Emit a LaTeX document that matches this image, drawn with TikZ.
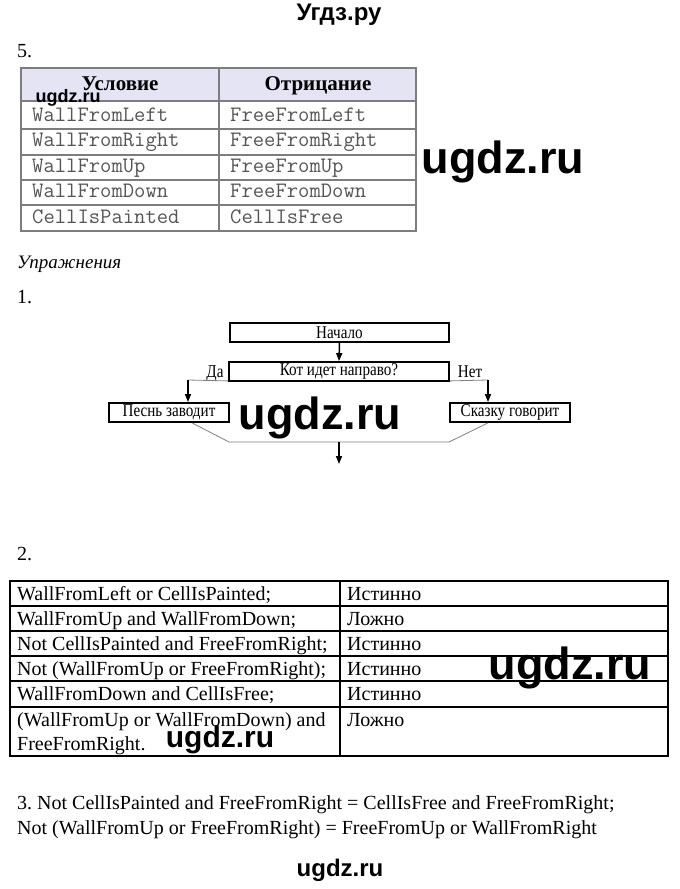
\documentclass[tikz,border=0pt]{standalone}
\usepackage{fontspec}
\setmainfont{Liberation Serif}
\newfontfamily\wmfont{Liberation Sans}
\newfontfamily\narrowserif[FakeStretch=0.84]{Liberation Serif}
\usetikzlibrary{arrows.meta,positioning}
\frenchspacing

\definecolor{headfill}{RGB}{228,228,244}
\definecolor{tabgray}{RGB}{125,125,125}
\definecolor{monogray}{RGB}{85,85,85}

\begin{document}
\begin{tikzpicture}[x=1pt,y=-1pt,
  wmark/.style={font=\wmfont\bfseries\fontsize{45}{45}\selectfont,inner sep=0pt},
  txt/.style={font=\fontsize{20}{24}\selectfont,inner sep=0pt,anchor=base west},
  mono/.style={font=\ttfamily\fontsize{22}{24}\selectfont,text=monogray,inner sep=0pt,anchor=base west},
  headtxt/.style={font=\bfseries\fontsize{21}{24}\selectfont,inner sep=0pt,anchor=base},
  fbox/.style={draw,line width=1.8pt,font=\narrowserif\fontsize{18}{20}\selectfont,inner sep=0pt,minimum height=19pt},
  flabel/.style={font=\narrowserif\fontsize{18}{20}\selectfont,inner sep=0pt,anchor=base},
  thinline/.style={draw=gray,line width=0.8pt},
  arrowline/.style={line width=1.5pt,-{Triangle[length=8pt,width=6pt]}}]

  \useasboundingbox[fill=white] (0,0) rectangle (680,889);

  % header
  \node[font=\wmfont\bfseries\fontsize{24}{24}\selectfont,inner sep=0pt] (title) at (339,15) {Угдз.ру};

  % 5.
  \node[txt] (five) at (17,57) {5.};
  \fill[headfill] (21,68) rectangle (416,101);
  \draw[tabgray,line width=1.4pt] (21,68) rectangle (416,231);
  \foreach \y in {101,129,155,180,205}
    \draw[tabgray,line width=1.2pt] (21,\y) -- (416,\y);
  \draw[tabgray,line width=1.2pt] (219,68) -- (219,231);
  \node[headtxt] (hcond) at (120,90) {Условие};
  \node[headtxt] (hneg) at (318,90) {Отрицание};
  \foreach \cnd/\ngt [count=\i] in {WallFromLeft/FreeFromLeft,WallFromRight/FreeFromRight,
      WallFromUp/FreeFromUp,WallFromDown/FreeFromDown,CellIsPainted/CellIsFree}
  {
    \node[mono] (cnd\i) at (32,{121+25.5*(\i-1)}) {\cnd};
    \node[mono] (ngt\i) at (230,{121+25.5*(\i-1)}) {\ngt};
  }

  % Упражнения
  \node[txt,font=\itshape\fontsize{19}{22}\selectfont] (exer) at (17,268) {Упражнения};
  \node[txt] (one) at (17,303) {1.};

  % блок-схема
  \node[fbox,minimum width=219pt] (start) at (339.5,332.5) {Начало};
  \node[fbox,minimum width=220pt] (cond) at (339,371.5) {Кот идет направо?};
  \node[fbox,minimum width=120pt] (song) at (169,412.5) {Песнь заводит};
  \node[fbox,minimum width=120pt] (tale) at (510,412.5) {Сказку говорит};
  \node[flabel] (yes) at (215,377) {Да};
  \node[flabel] (no) at (470,377) {Нет};

  \coordinate (yesturn) at (188,380);
  \coordinate (noturn) at (488,380);
  \coordinate (joinl) at (229,442);
  \coordinate (joinr) at (449,442);
  \coordinate (joinm) at (339,442);
  \coordinate (outend) at (339,464);

  \draw[arrowline] (start.south) -- (cond.north);
  \draw[thinline] (cond.south west) ++(0,-1) -- (yesturn);
  \draw[arrowline] (yesturn) -- (yesturn |- song.north);
  \draw[thinline] (cond.south east) ++(0,-1) -- (noturn);
  \draw[arrowline] (noturn) -- (noturn |- tale.north);
  \draw[thinline] (song.south -| 192,0) -- (joinl) -- (joinr) -- (tale.south -| noturn);
  \draw[arrowline] (joinm) -- (outend);

  % 2.
  \node[txt] (two) at (17,560) {2.};
  \draw[line width=1.3pt] (10,581) rectangle (668,756);
  \foreach \y in {606,631,656,681,707}
    \draw[line width=1.1pt] (10,\y) -- (668,\y);
  \draw[line width=1.1pt] (340,581) -- (340,756);
  \foreach \expr/\val [count=\i] in {WallFromLeft or CellIsPainted;/Истинно,
      WallFromUp and WallFromDown;/Ложно,
      Not CellIsPainted and FreeFromRight;/Истинно,
      Not (WallFromUp or FreeFromRight);/Истинно,
      WallFromDown and CellIsFree;/Истинно,
      (WallFromUp or WallFromDown) and/Ложно}
  {
    \node[txt] (expr\i) at (17,{600+25.2*(\i-1)}) {\expr};
    \node[txt] (val\i) at (347,{600+25.2*(\i-1)}) {\val};
  }
  \node[txt] (expr7) at (17,750) {FreeFromRight.};

  % 3.
  \node[txt] (three) at (17,809) {3. Not CellIsPainted and FreeFromRight = CellIsFree and FreeFromRight;};
  \node[txt] (threeb) at (17,834) {Not (WallFromUp or FreeFromRight) = FreeFromUp or WallFromRight};

  % водяные знаки
  \node[wmark,font=\wmfont\bfseries\fontsize{18}{18}\selectfont] (wm1) at (68,98) {ugdz.ru};
  \node[wmark] (wm2) at (503,162) {ugdz.ru};
  \node[wmark] (wm3) at (320,418) {ugdz.ru};
  \node[wmark] (wm4) at (570,668) {ugdz.ru};
  \node[wmark,font=\wmfont\bfseries\fontsize{30}{30}\selectfont] (wm5) at (220,740) {ugdz.ru};
  \node[wmark,font=\wmfont\bfseries\fontsize{24}{24}\selectfont] (wm6) at (340,870) {ugdz.ru};

\end{tikzpicture}
\end{document}
